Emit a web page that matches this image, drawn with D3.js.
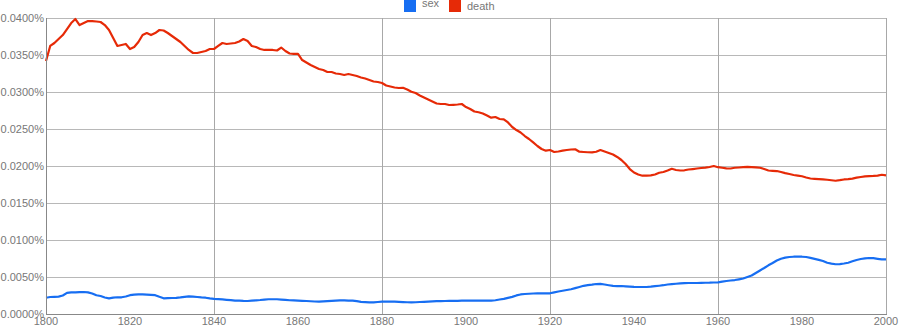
<!DOCTYPE html>
<html><head><meta charset="utf-8">
<script src="https://cdn.jsdelivr.net/npm/d3@7/dist/d3.min.js"></script>
<style>
html,body{margin:0;padding:0;background:#fff;}
svg{display:block;font-family:Arial,"Liberation Sans",sans-serif;}
</style></head>
<body>
<svg id="chart" width="900" height="330"></svg>
<script>
const startYear = 1800;
const seriesNames = ["sex", "death"];
const seriesColors = ["#176ef2", "#e62a07"];
const yTicks = [0, 0.005, 0.01, 0.015, 0.02, 0.025, 0.03, 0.035, 0.04];
const xTicks = [1800, 1820, 1840, 1860, 1880, 1900, 1920, 1940, 1960, 1980, 2000];
const xGrid = [1840, 1880, 1920, 1960];

const sexValues = [
0.00220,0.00230,0.00232,0.00235,0.00250,0.00286,0.00292,0.00293,0.00296,0.00297,
0.00292,0.00277,0.00253,0.00243,0.00223,0.00212,0.00222,0.00226,0.00226,0.00236,
0.00254,0.00262,0.00266,0.00264,0.00261,0.00259,0.00254,0.00232,0.00212,0.00215,
0.00216,0.00219,0.00224,0.00231,0.00238,0.00235,0.00230,0.00224,0.00220,0.00211,
0.00204,0.00200,0.00197,0.00192,0.00188,0.00182,0.00180,0.00177,0.00176,0.00180,
0.00185,0.00189,0.00195,0.00199,0.00199,0.00199,0.00195,0.00191,0.00186,0.00184,
0.00181,0.00178,0.00176,0.00172,0.00169,0.00166,0.00170,0.00174,0.00178,0.00182,
0.00185,0.00185,0.00182,0.00180,0.00173,0.00165,0.00161,0.00158,0.00158,0.00162,
0.00166,0.00166,0.00166,0.00166,0.00164,0.00161,0.00159,0.00158,0.00159,0.00162,
0.00165,0.00168,0.00170,0.00173,0.00174,0.00176,0.00177,0.00178,0.00178,0.00180,
0.00180,0.00180,0.00180,0.00180,0.00180,0.00180,0.00181,0.00186,0.00196,0.00205,
0.00218,0.00232,0.00251,0.00264,0.00270,0.00274,0.00277,0.00280,0.00280,0.00280,
0.00280,0.00293,0.00304,0.00314,0.00324,0.00334,0.00349,0.00365,0.00381,0.00389,
0.00396,0.00405,0.00407,0.00399,0.00389,0.00380,0.00378,0.00378,0.00373,0.00369,
0.00366,0.00365,0.00365,0.00365,0.00369,0.00376,0.00382,0.00389,0.00399,0.00404,
0.00409,0.00415,0.00418,0.00419,0.00419,0.00419,0.00420,0.00422,0.00423,0.00426,
0.00428,0.00438,0.00446,0.00453,0.00459,0.00469,0.00480,0.00500,0.00520,0.00554,
0.00588,0.00622,0.00658,0.00689,0.00723,0.00747,0.00761,0.00770,0.00774,0.00776,
0.00774,0.00770,0.00759,0.00745,0.00732,0.00716,0.00692,0.00680,0.00672,0.00673,
0.00682,0.00693,0.00712,0.00730,0.00743,0.00751,0.00757,0.00754,0.00746,0.00739,
0.00739
];

const deathValues = [
0.03419,0.03622,0.03662,0.03716,0.03770,0.03851,0.03932,0.03986,0.03905,0.03932,
0.03959,0.03959,0.03953,0.03946,0.03905,0.03838,0.03730,0.03622,0.03635,0.03649,
0.03581,0.03608,0.03676,0.03770,0.03797,0.03770,0.03797,0.03838,0.03831,0.03797,
0.03757,0.03716,0.03676,0.03622,0.03568,0.03527,0.03527,0.03541,0.03554,0.03581,
0.03581,0.03622,0.03662,0.03649,0.03655,0.03662,0.03682,0.03716,0.03689,0.03622,
0.03608,0.03581,0.03568,0.03568,0.03568,0.03561,0.03601,0.03554,0.03520,0.03514,
0.03514,0.03432,0.03399,0.03365,0.03338,0.03311,0.03297,0.03270,0.03270,0.03250,
0.03243,0.03230,0.03243,0.03230,0.03216,0.03196,0.03182,0.03162,0.03142,0.03135,
0.03122,0.03088,0.03074,0.03061,0.03054,0.03057,0.03034,0.03004,0.02986,0.02953,
0.02926,0.02899,0.02872,0.02845,0.02838,0.02838,0.02824,0.02827,0.02831,0.02838,
0.02797,0.02770,0.02736,0.02726,0.02709,0.02682,0.02653,0.02662,0.02635,0.02631,
0.02588,0.02527,0.02486,0.02453,0.02405,0.02365,0.02318,0.02270,0.02230,0.02207,
0.02216,0.02189,0.02196,0.02207,0.02216,0.02223,0.02226,0.02193,0.02189,0.02186,
0.02185,0.02193,0.02216,0.02196,0.02176,0.02155,0.02122,0.02081,0.02027,0.01959,
0.01912,0.01885,0.01869,0.01869,0.01874,0.01885,0.01909,0.01919,0.01939,0.01962,
0.01946,0.01939,0.01942,0.01953,0.01959,0.01966,0.01973,0.01977,0.01986,0.02000,
0.01984,0.01976,0.01969,0.01966,0.01976,0.01980,0.01984,0.01989,0.01986,0.01982,
0.01976,0.01959,0.01939,0.01935,0.01932,0.01919,0.01903,0.01892,0.01878,0.01870,
0.01861,0.01845,0.01831,0.01827,0.01823,0.01819,0.01814,0.01807,0.01801,0.01808,
0.01818,0.01822,0.01830,0.01842,0.01851,0.01859,0.01864,0.01866,0.01870,0.01882,
0.01874
];

const svg = d3.select("#chart");
const plotLeft = 46, plotRight = 886, plotTop = 18, plotBottom = 314;

const x = d3.scaleLinear().domain([1800, 2000]).range([plotLeft, plotRight]);
const y = d3.scaleLinear().domain([0, 0.04]).range([plotBottom, plotTop]);

const fmt = v => v.toFixed(4) + "%";

// horizontal gridlines
svg.append("g").selectAll("line").data(yTicks.filter(d => d > 0)).join("line")
  .attr("x1", plotLeft).attr("x2", plotRight)
  .attr("y1", d => Math.round(y(d)) + 0.5).attr("y2", d => Math.round(y(d)) + 0.5)
  .attr("stroke", "#b8b8b8").attr("stroke-width", 1);

// vertical gridlines
svg.append("g").selectAll("line").data(xGrid).join("line")
  .attr("x1", d => Math.round(x(d)) + 0.5).attr("x2", d => Math.round(x(d)) + 0.5)
  .attr("y1", plotTop).attr("y2", plotBottom)
  .attr("stroke", "#a8a8a8").attr("stroke-width", 1);

// right border
svg.append("line")
  .attr("x1", plotRight + 0.5).attr("x2", plotRight + 0.5).attr("y1", plotTop).attr("y2", plotBottom)
  .attr("stroke", "#a8a8a8");

// series
const data = [sexValues, deathValues];
const line = d3.line().x((d, i) => x(startYear + i)).y(d => y(d));
svg.append("g").selectAll("path").data(data).join("path")
  .attr("d", line)
  .attr("fill", "none")
  .attr("stroke", (d, i) => seriesColors[i])
  .attr("stroke-width", 2.2)
  .attr("stroke-linejoin", "round");

// axes lines
svg.append("line").attr("x1", plotLeft + 0.5).attr("x2", plotLeft + 0.5).attr("y1", plotTop).attr("y2", plotBottom + 0.5)
  .attr("stroke", "#888");
svg.append("line").attr("x1", plotLeft).attr("x2", plotRight + 1).attr("y1", plotBottom + 0.5).attr("y2", plotBottom + 0.5)
  .attr("stroke", "#888");

// y labels
svg.append("g").selectAll("text").data(yTicks).join("text")
  .attr("x", plotLeft - 2).attr("y", d => y(d) + 4)
  .attr("text-anchor", "end")
  .attr("font-size", 11).attr("fill", "#777")
  .text(fmt);

// x labels
svg.append("g").selectAll("text").data(xTicks).join("text")
  .attr("x", d => x(d)).attr("y", plotBottom + 11)
  .attr("text-anchor", "middle")
  .attr("font-size", 11).attr("fill", "#777")
  .text(d => d);

// legend
const legendX = [404, 449];
const legendTextY = [7, 10];
const lg = svg.append("g");
seriesNames.forEach((name, i) => {
  lg.append("rect").attr("x", legendX[i]).attr("y", 0).attr("width", 12).attr("height", 12)
    .attr("fill", seriesColors[i]);
  lg.append("text").attr("x", legendX[i] + 18).attr("y", legendTextY[i])
    .attr("font-size", 11).attr("fill", "#777").text(name);
});
</script>
</body></html>
